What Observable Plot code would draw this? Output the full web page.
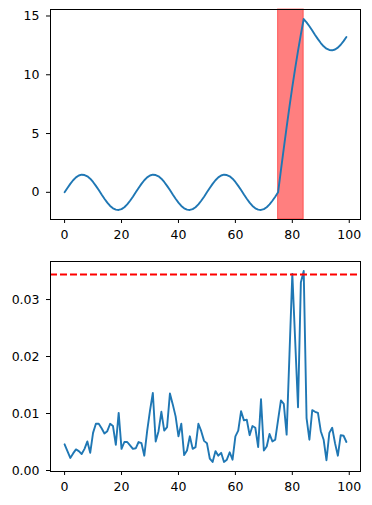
<!DOCTYPE html>
<html>
<head>
<meta charset="utf-8">
<script src="https://cdn.jsdelivr.net/npm/d3@7"></script>
<script src="https://cdn.jsdelivr.net/npm/@observablehq/plot@0.6"></script>
<style>
  html, body { margin: 0; padding: 0; background: #fff; }
  #chart { width: 372px; height: 505px; overflow: hidden; }
  #chart svg { display: block; overflow: visible; }
</style>
</head>
<body>
<div id="chart"></div>
<script>
// ---- data ----
const signal = [
  0, 0.37, 0.72, 1.03, 1.27, 1.43, 1.50, 1.47, 1.36, 1.16, 0.88, 0.55, 0.19, -0.19, -0.55, -0.88, -1.16, -1.36, -1.47, -1.50, -1.43, -1.27, -1.03, -0.72, -0.37,
  0, 0.37, 0.72, 1.03, 1.27, 1.43, 1.50, 1.47, 1.36, 1.16, 0.88, 0.55, 0.19, -0.19, -0.55, -0.88, -1.16, -1.36, -1.47, -1.50, -1.43, -1.27, -1.03, -0.72, -0.37,
  0, 0.37, 0.72, 1.03, 1.27, 1.43, 1.50, 1.47, 1.36, 1.16, 0.88, 0.55, 0.19, -0.19, -0.55, -0.88, -1.16, -1.36, -1.47, -1.50, -1.43, -1.27, -1.03, -0.72, -0.37,
  0, 1.88, 3.74, 5.55, 7.30, 8.97, 10.55, 12.04, 13.43, 14.74, 14.46, 14.13, 13.77, 13.39, 13.03, 12.70, 12.42, 12.22, 12.11, 12.08, 12.15, 12.31, 12.55, 12.86, 13.21
];
const score = [
  0.0046, 0.0034, 0.0022, 0.0030, 0.0037, 0.0034, 0.0029, 0.0038, 0.0051, 0.0031,
  0.0066, 0.0082, 0.0082, 0.0074, 0.0065, 0.0069, 0.0082, 0.0078, 0.0045, 0.0101,
  0.0038, 0.0050, 0.0050, 0.0044, 0.0038, 0.0039, 0.0050, 0.0048, 0.0026, 0.0069,
  0.0105, 0.0136, 0.0051, 0.0069, 0.0103, 0.0070, 0.0076, 0.0135, 0.0116, 0.0095,
  0.0060, 0.0082, 0.0027, 0.0035, 0.0060, 0.0038, 0.0041, 0.0082, 0.0069, 0.0052,
  0.0048, 0.0021, 0.0015, 0.0034, 0.0026, 0.0031, 0.0015, 0.0019, 0.0032, 0.0019,
  0.0060, 0.0070, 0.0104, 0.0088, 0.0089, 0.0062, 0.0078, 0.0075, 0.0041, 0.0125,
  0.0035, 0.0042, 0.0064, 0.0051, 0.0054, 0.0089, 0.0123, 0.0117, 0.0063, 0.0204,
  0.0345, 0.0228, 0.0111, 0.0330, 0.0350, 0.0092, 0.0054, 0.0106, 0.0103, 0.0101,
  0.0069, 0.0054, 0.0018, 0.0066, 0.0075, 0.0048, 0.0026, 0.0062, 0.0061, 0.0050
];
const spanStart = [75];
const spanEnd = [84];
const threshold = [0.0344];
const xTicks = [0, 20, 40, 60, 80, 100];
const yTicksTop = [0, 5, 10, 15];
const yTicksBottom = [0.00, 0.01, 0.02, 0.03];

// ---- build tables ----
const topData = signal.map((v, i) => ({i, v}));
const botData = score.map((v, i) => ({i, v}));
const spans = spanStart.map((s, k) => ({s, e: spanEnd[k]}));

const font = "'DejaVu Sans', sans-serif";
const chartStyle = {fontFamily: font, fontSize: "12.5px", color: "#000", background: "#fff"};
const xDomain = [-4.95, 103.95];
const blue = "#1f77b4";

function pad(ext) { const r = ext[1] - ext[0]; return [ext[0] - 0.05 * r, ext[1] + 0.05 * r]; }

const topPlot = Plot.plot({
  width: 372, height: 250,
  marginLeft: 50, marginRight: 12, marginTop: 9, marginBottom: 31,
  style: chartStyle,
  x: {domain: xDomain, ticks: xTicks, tickSize: 4, tickPadding: 7, label: null},
  y: {domain: pad(d3.extent(signal)), ticks: yTicksTop, tickSize: 4, tickPadding: 7, label: null},
  marks: [
    Plot.rect(spans, {x1: "s", x2: "e", fill: "red", fillOpacity: 0.5, stroke: "red", strokeOpacity: 0.5, strokeWidth: 1}),
    Plot.line(topData, {x: "i", y: "v", stroke: blue, strokeWidth: 1.9}),
    Plot.frame({stroke: "#000", strokeWidth: 1})
  ]
});

const bottomPlot = Plot.plot({
  width: 372, height: 255,
  marginLeft: 50, marginRight: 12, marginTop: 11, marginBottom: 34,
  style: chartStyle,
  x: {domain: xDomain, ticks: xTicks, tickSize: 4, tickPadding: 7, label: null},
  y: {domain: pad(d3.extent(score)), ticks: yTicksBottom, tickFormat: d3.format(".2f"), tickSize: 4, tickPadding: 7, label: null},
  marks: [
    Plot.line(botData, {x: "i", y: "v", stroke: blue, strokeWidth: 1.9}),
    Plot.ruleY(threshold, {stroke: "red", strokeWidth: 1.9, strokeDasharray: "7,3"}),
    Plot.frame({stroke: "#000", strokeWidth: 1})
  ]
});

const el = document.getElementById("chart");
el.appendChild(topPlot);
el.appendChild(bottomPlot);
</script>
</body>
</html>
